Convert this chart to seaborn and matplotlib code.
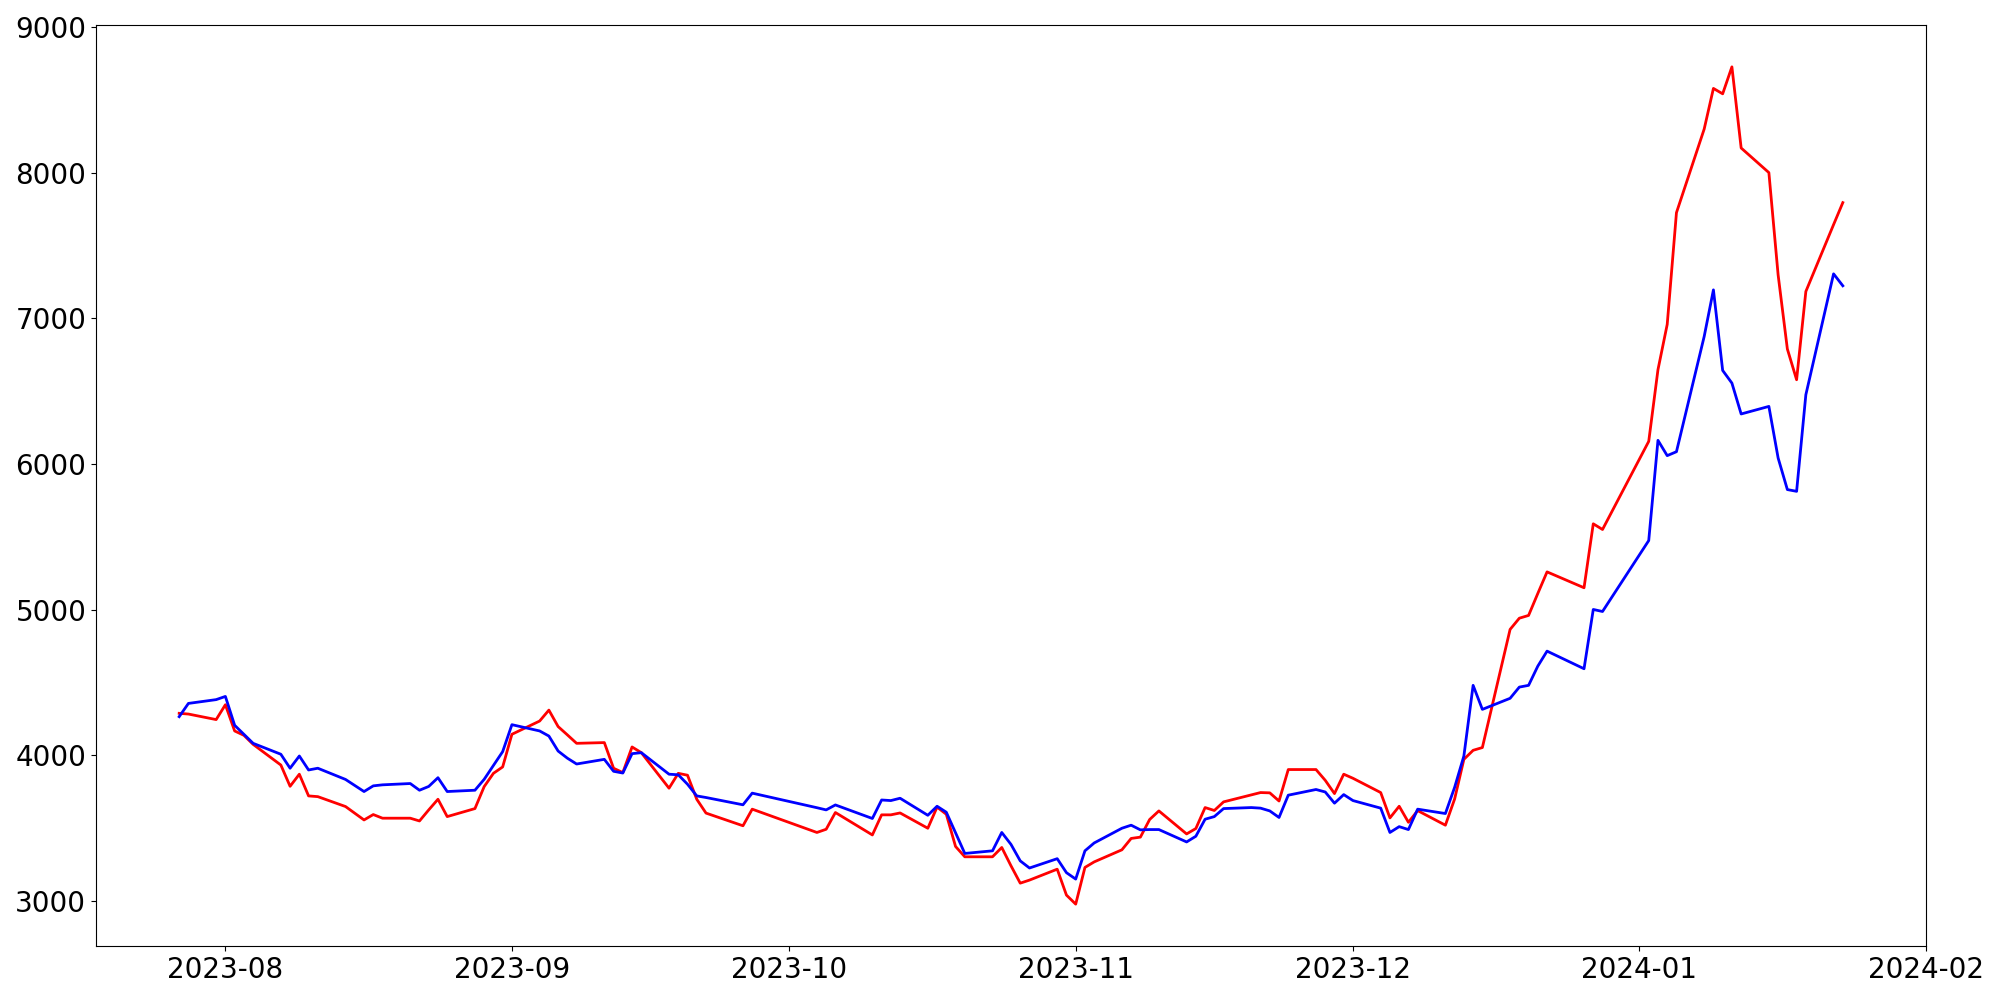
#%% pacotes
import matplotlib
matplotlib.use("Agg")
import matplotlib.pyplot as plt
import matplotlib.dates as mdates
import seaborn as sns
import pandas as pd

#%% dados
datas = [
    "2023-07-27", "2023-07-28", "2023-07-31", "2023-08-01", "2023-08-02", "2023-08-03", "2023-08-04",
    "2023-08-07", "2023-08-08", "2023-08-09", "2023-08-10", "2023-08-11", "2023-08-14", "2023-08-16",
    "2023-08-17", "2023-08-18", "2023-08-21", "2023-08-22", "2023-08-23", "2023-08-24", "2023-08-25",
    "2023-08-28", "2023-08-29", "2023-08-30", "2023-08-31", "2023-09-01", "2023-09-04", "2023-09-05",
    "2023-09-06", "2023-09-07", "2023-09-08", "2023-09-11", "2023-09-12", "2023-09-13", "2023-09-14",
    "2023-09-15", "2023-09-18", "2023-09-19", "2023-09-20", "2023-09-21", "2023-09-22", "2023-09-26",
    "2023-09-27", "2023-10-04", "2023-10-05", "2023-10-06", "2023-10-10", "2023-10-11", "2023-10-12",
    "2023-10-13", "2023-10-16", "2023-10-17", "2023-10-18", "2023-10-19", "2023-10-20", "2023-10-23",
    "2023-10-24", "2023-10-25", "2023-10-26", "2023-10-27", "2023-10-30", "2023-10-31", "2023-11-01",
    "2023-11-02", "2023-11-03", "2023-11-06", "2023-11-07", "2023-11-08", "2023-11-09", "2023-11-10",
    "2023-11-13", "2023-11-14", "2023-11-15", "2023-11-16", "2023-11-17", "2023-11-20", "2023-11-21",
    "2023-11-22", "2023-11-23", "2023-11-24", "2023-11-27", "2023-11-28", "2023-11-29", "2023-11-30",
    "2023-12-01", "2023-12-04", "2023-12-05", "2023-12-06", "2023-12-07", "2023-12-08", "2023-12-11",
    "2023-12-12", "2023-12-13", "2023-12-14", "2023-12-15", "2023-12-18", "2023-12-19", "2023-12-20",
    "2023-12-21", "2023-12-22", "2023-12-26", "2023-12-27", "2023-12-28", "2024-01-02", "2024-01-03",
    "2024-01-04", "2024-01-05", "2024-01-08", "2024-01-09", "2024-01-10", "2024-01-11", "2024-01-12",
    "2024-01-15", "2024-01-16", "2024-01-17", "2024-01-18", "2024-01-19", "2024-01-22", "2024-01-23",
]

serie_vermelha = [
    4288, 4283, 4245, 4347, 4167, 4137, 4075,
    3933, 3787, 3870, 3721, 3716, 3648, 3556,
    3593, 3568, 3568, 3549, 3625, 3698, 3579,
    3634, 3785, 3876, 3920, 4144, 4235, 4310,
    4197, 4140, 4082, 4087, 3911, 3881, 4057,
    4018, 3774, 3876, 3863, 3698, 3603, 3516,
    3630, 3470, 3492, 3607, 3453, 3591, 3591,
    3604, 3499, 3644, 3595, 3374, 3303, 3303,
    3367, 3241, 3122, 3143, 3218, 3040, 2978,
    3230, 3268, 3351, 3429, 3438, 3559, 3618,
    3460, 3497, 3641, 3621, 3680, 3728, 3744,
    3742, 3686, 3902, 3902, 3828, 3737, 3870,
    3842, 3744, 3570, 3650, 3540, 3620, 3520,
    3700, 3972, 4034, 4053, 4864, 4941, 4960,
    5111, 5259, 5150, 5589, 5550, 6155, 6647,
    6958, 7725, 8299, 8578, 8541, 8726, 8169,
    8000, 7298, 6789, 6578, 7184, 7643, 7794,
]

serie_azul = [
    4265, 4356, 4382, 4404, 4206, 4144, 4082,
    4007, 3911, 3995, 3899, 3911, 3834, 3751,
    3790, 3797, 3806, 3760, 3786, 3846, 3751,
    3760, 3835, 3930, 4025, 4210, 4167, 4132,
    4029, 3980, 3940, 3972, 3890, 3878, 4011,
    4018, 3870, 3866, 3801, 3721, 3710, 3660,
    3740, 3640, 3625, 3659, 3566, 3693, 3689,
    3705, 3588, 3650, 3609, 3468, 3326, 3344,
    3470, 3388, 3275, 3226, 3290, 3194, 3150,
    3344, 3398, 3499, 3520, 3488, 3490, 3490,
    3405, 3444, 3561, 3579, 3634, 3641, 3637,
    3618, 3573, 3726, 3765, 3748, 3671, 3730,
    3689, 3637, 3470, 3510, 3490, 3630, 3600,
    3780, 3995, 4480, 4315, 4391, 4468, 4480,
    4612, 4715, 4594, 5001, 4987, 5474, 6162,
    6057, 6084, 6875, 7195, 6642, 6555, 6343,
    6395, 6041, 5824, 5812, 6475, 7305, 7223,
]

df = pd.DataFrame({
    "data": pd.to_datetime(datas),
    "vermelha": serie_vermelha,
    "azul": serie_azul,
})

#%% grafico
fig, ax = plt.subplots(figsize=(20, 10), dpi=100)
fig.subplots_adjust(left=0.048, right=0.963, top=0.975, bottom=0.054)

sns.lineplot(data=df, x="data", y="vermelha", color="red", linewidth=2, ax=ax)
sns.lineplot(data=df, x="data", y="azul", color="blue", linewidth=2, ax=ax)

ax.set_xlabel("")
ax.set_ylabel("")
ax.xaxis.set_major_locator(mdates.MonthLocator())
ax.xaxis.set_major_formatter(mdates.DateFormatter("%Y-%m"))
ax.tick_params(labelsize=20)

fig.savefig("out.png", dpi=100)
